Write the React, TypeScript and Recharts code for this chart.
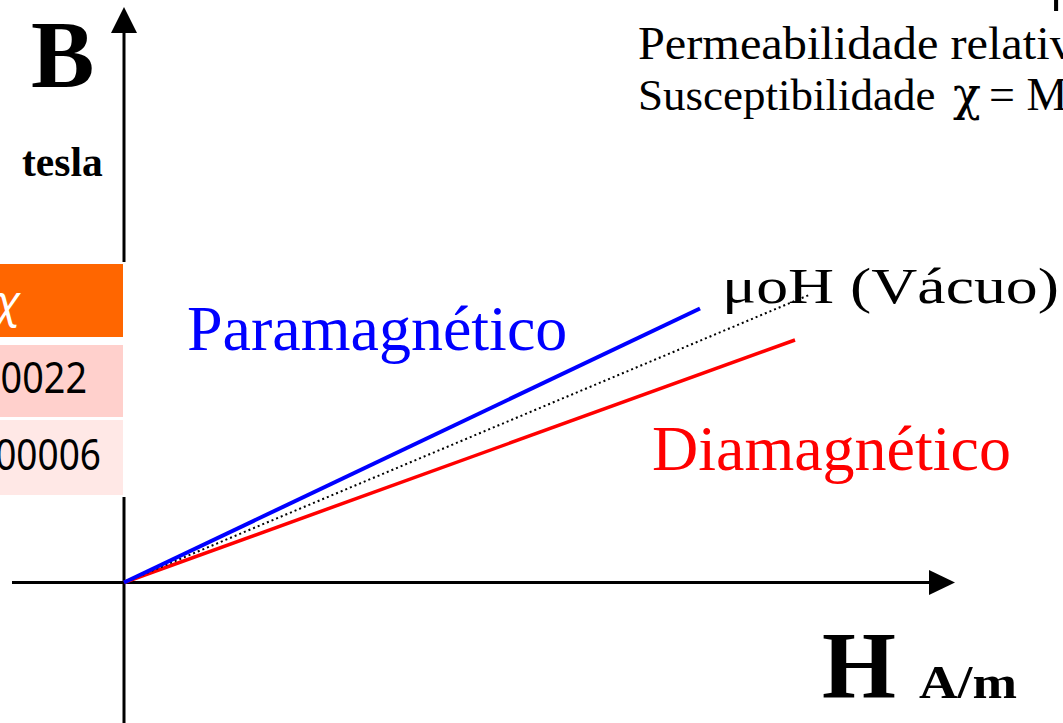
import React from "react";
import { LineChart, Line, XAxis, YAxis, ReferenceLine, ReferenceDot } from "recharts";

// Field strength H (A/m, arbitrary units) and flux density B (tesla, arbitrary units)
const paraH = [0, 57.6];
const paraB = [0, 27.4];
const vacuoH = [0, 68.5];
const vacuoB = [0, 28.75];
const diaH = [0, 67.1];
const diaB = [0, 24.25];

const hDomain = [-12.4, 93.9];
const bDomain = [-14.05, 58.25];
const hAxisStart = -11.2;
const hAxisEnd = 80.5;
const hArrowTip = 83.1;
const bAxisStart = -14.05;
const bAxisEnd = 54.95;
const bArrowTip = 57.55;

const tableHeader = "χ";
const tableRows = ["00022", "000006"];

const toData = (hs: number[], bs: number[]) => hs.map((h, i) => ({ H: h, B: bs[i] }));
const paraData = toData(paraH, paraB);
const vacuoData = toData(vacuoH, vacuoB);
const diaData = toData(diaH, diaB);

const serif = '"Liberation Serif", "Times New Roman", serif';
const sans = '"Noto Sans", "Open Sans", sans-serif';

const ArrowRight = (props: any) => {
  const { cx, cy } = props;
  return <polygon points={`${cx},${cy} ${cx - 26},${cy - 12.5} ${cx - 26},${cy + 12.5}`} fill="#000" />;
};
const ArrowUp = (props: any) => {
  const { cx, cy } = props;
  return <polygon points={`${cx},${cy} ${cx - 13},${cy + 26} ${cx + 13},${cy + 26}`} fill="#000" />;
};

export default function App() {
  return (
    <div style={{ position: "absolute", left: 0, top: 0, width: 1063, height: 723, background: "#fff", overflow: "hidden" }}>
      <LineChart width={1063} height={723} margin={{ top: 0, right: 0, bottom: 0, left: 0 }}>
        <XAxis type="number" dataKey="H" domain={hDomain} hide allowDataOverflow />
        <YAxis type="number" dataKey="B" domain={bDomain} hide width={0} allowDataOverflow />
        <ReferenceLine segment={[{ x: hAxisStart, y: 0 }, { x: hAxisEnd, y: 0 }]} stroke="#000" strokeWidth={3} />
        <ReferenceLine segment={[{ x: 0, y: bAxisStart }, { x: 0, y: bAxisEnd }]} stroke="#000" strokeWidth={3} />
        <ReferenceDot x={hArrowTip} y={0} r={1} shape={ArrowRight} />
        <ReferenceDot x={0} y={bArrowTip} r={1} shape={ArrowUp} />
        <Line data={diaData} dataKey="B" type="linear" stroke="#FF0000" strokeWidth={3.5} dot={false} activeDot={false} isAnimationActive={false} />
        <Line data={vacuoData} dataKey="B" type="linear" stroke="#000" strokeWidth={2} strokeDasharray="2 3" dot={false} activeDot={false} isAnimationActive={false} />
        <Line data={paraData} dataKey="B" type="linear" stroke="#0000FF" strokeWidth={4} dot={false} activeDot={false} isAnimationActive={false} />
      </LineChart>
      <svg width={1063} height={723} style={{ position: "absolute", left: 0, top: 0, pointerEvents: "none" }}>
        <rect x={0} y={262} width={128} height={235} fill="#fff" />
        <rect x={0} y={264} width={123} height={73} fill="#FF6600" />
        <rect x={0} y={345} width={123} height={72} fill="#FFD0CC" />
        <rect x={0} y={420} width={123} height={75} fill="#FFE8E6" />
        <text x={21} y={317} textAnchor="end" fill="#fff" fontFamily={sans} fontStyle="italic" fontSize={44}>{tableHeader}</text>
        <text x={-21} y={393} fill="#000" fontFamily={sans} fontSize={44} textLength={108} lengthAdjust="spacingAndGlyphs">{tableRows[0]}</text>
        <text x={-26} y={470} fill="#000" fontFamily={sans} fontSize={44} textLength={127} lengthAdjust="spacingAndGlyphs">{tableRows[1]}</text>

        <text x={31} y={87} fontFamily={serif} fontWeight="bold" fontSize={95} fill="#000">B</text>
        <text x={22} y={176} fontFamily={serif} fontWeight="bold" fontSize={41.5} fill="#000">tesla</text>
        <text x={1050} y={0} fontFamily={serif} fontSize={50} fill="#000">μ</text>
        <g transform="translate(638,59) scale(1.05,1)">
          <text x={0} y={0} fontFamily={serif} fontSize={46} fill="#000">Permeabilidade relativa</text>
        </g>
        <text x={638} y={110} fontFamily={serif} fontSize={45} fill="#000">Susceptibilidade</text>
        <text x={953} y={110} fontFamily={'"DejaVu Serif", serif'} fontSize={46} fill="#000">χ</text>
        <text x={989} y={110} fontFamily={serif} fontSize={46} fill="#000">= M/H</text>
        <text x={722} y={303} fontFamily={serif} fontSize={50} fill="#000" textLength={337} lengthAdjust="spacingAndGlyphs">μoH (Vácuo)</text>
        <text x={187} y={350} fontFamily={serif} fontSize={64} fill="#0000FF">Paramagnético</text>
        <text x={652} y={470} fontFamily={serif} fontSize={64} fill="#FF0000">Diamagnético</text>
        <text x={822} y={698} fontFamily={serif} fontWeight="bold" fontSize={95} fill="#000">H</text>
        <text x={919} y={698} fontFamily={serif} fontWeight="bold" fontSize={47} fill="#000" textLength={98} lengthAdjust="spacingAndGlyphs">A/m</text>
      </svg>
    </div>
  );
}
